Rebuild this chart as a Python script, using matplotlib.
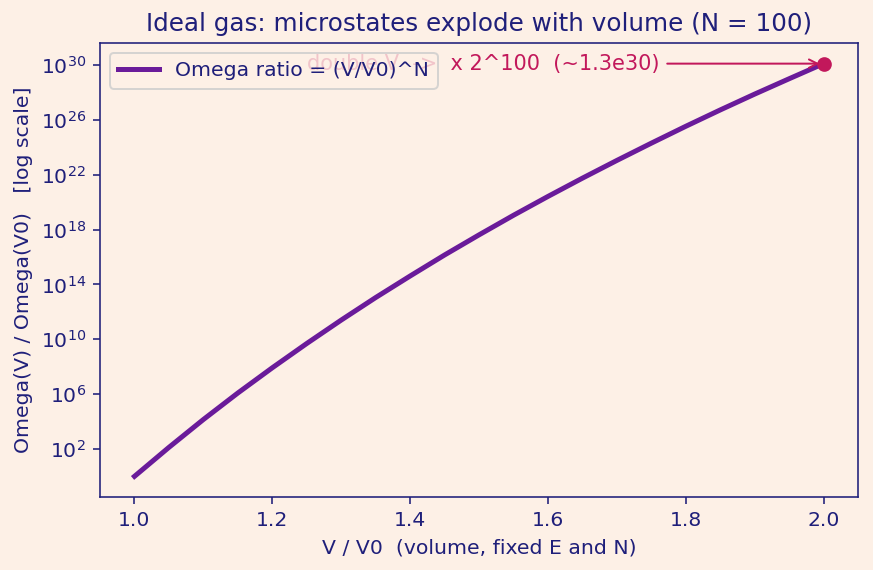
import numpy as np
import matplotlib.pyplot as plt

# V/V0 and Omega ratio (log scale)
v_ratio = [1.00, 1.05, 1.10, 1.15, 1.20, 1.25, 1.30, 1.35, 1.40, 1.45, 1.50,
           1.55, 1.60, 1.65, 1.70, 1.75, 1.80, 1.85, 1.90, 1.95, 2.00]
omega_ratio = [1.0, 1.3e2, 1.4e4, 1.2e6, 8.3e7, 4.9e9, 2.5e11, 1.1e13, 4.1e14,
               1.4e16, 4.1e17, 1.1e19, 2.6e20, 5.6e21, 1.1e23, 2.0e24, 3.4e25,
               5.3e26, 7.6e27, 1.0e29, 1.27e30]
end_point = (2.0, 1.27e30)

bg = '#fdf0e6'
ink = '#1f1f7a'
purple = '#6a1b9a'
crimson = '#c2185b'

fig, ax = plt.subplots(figsize=(873 / 144, 570 / 144), dpi=144)
fig.patch.set_facecolor(bg)
ax.set_facecolor(bg)

ax.plot(v_ratio, omega_ratio, color=purple, lw=2.5, label='Omega ratio = (V/V0)^N')
ax.scatter([end_point[0]], [end_point[1]], color=crimson, s=40, zorder=5)
ax.set_yscale('log')

# the legend sits over the start of this text, as in the original
ax.annotate('double V  ->  x 2^100  (~1.3e30)', xy=end_point,
            xytext=(1.25, end_point[1]), textcoords='data',
            ha='left', va='center', color=crimson, fontsize=10.45,
            arrowprops=dict(arrowstyle='->', color=crimson, lw=1))

ax.set_title('Ideal gas: microstates explode with volume (N = 100)', color=ink, fontsize=12.3)
ax.set_xlabel('V / V0  (volume, fixed E and N)', color=ink, fontsize=10.2)
ax.set_ylabel('Omega(V) / Omega(V0)   [log scale]', color=ink, fontsize=10.2)

ax.set_yticks([1e2, 1e6, 1e10, 1e14, 1e18, 1e22, 1e26, 1e30])
ax.minorticks_off()
ax.tick_params(colors=ink, labelsize=10.2)
for s in ax.spines.values():
    s.set_color(ink)

leg = ax.legend(loc='upper left', fontsize=10.2, facecolor=bg, edgecolor='#cccccc')
for t in leg.get_texts():
    t.set_color(ink)

fig.subplots_adjust(left=100 / 873, right=858 / 873, top=1 - 43 / 570, bottom=1 - 497 / 570)
fig.savefig('out.png', dpi=144, facecolor=bg)
